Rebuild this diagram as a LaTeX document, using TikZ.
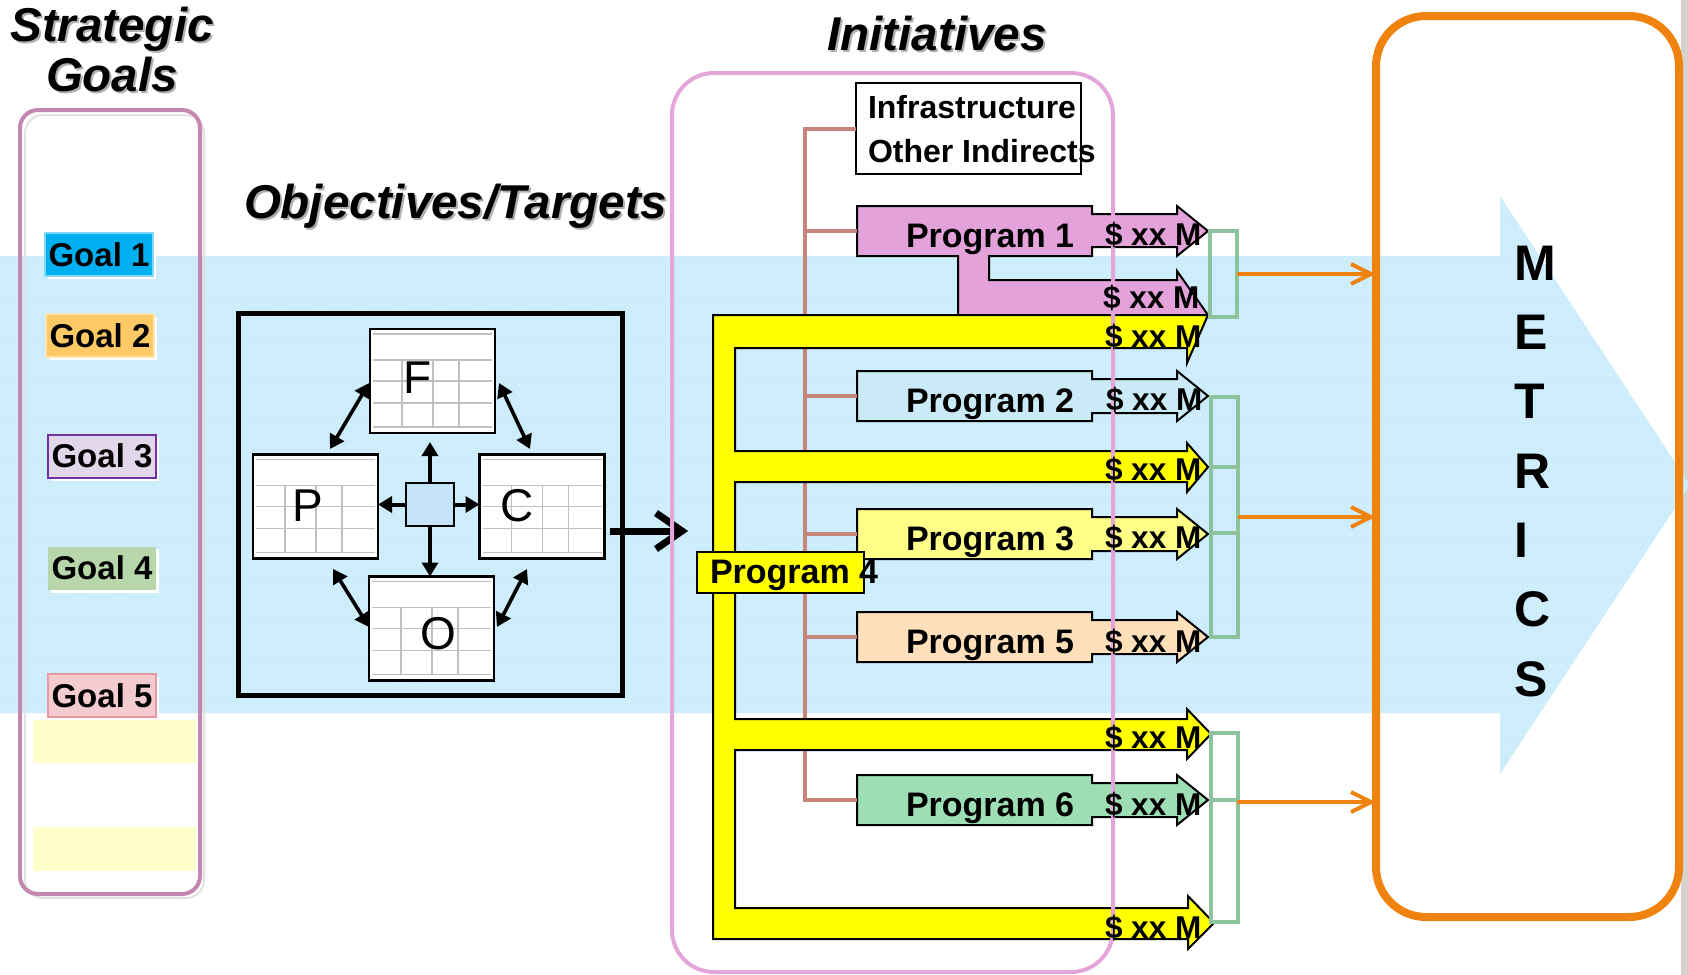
\documentclass[tikz,border=0pt]{standalone}
\usepackage{fontspec}
\setmainfont{Liberation Sans}
\usetikzlibrary{arrows.meta,patterns.meta,calc}

\definecolor{bandblue}{RGB}{205,236,252}
\definecolor{banddot}{RGB}{230,247,255}
\definecolor{edgegray}{RGB}{214,210,204}
\definecolor{goalframe}{RGB}{196,136,176}
\definecolor{goalshade}{RGB}{226,226,226}
\definecolor{goalA}{RGB}{0,176,240}
\definecolor{goalB}{RGB}{255,201,102}
\definecolor{goalC}{RGB}{225,214,234}
\definecolor{goalCedge}{RGB}{112,48,160}
\definecolor{goalD}{RGB}{183,215,170}
\definecolor{goalE}{RGB}{244,204,207}
\definecolor{goalEedge}{RGB}{232,152,158}
\definecolor{paleyellow}{RGB}{255,255,204}
\definecolor{hubblue}{RGB}{197,228,250}
\definecolor{gridgray}{RGB}{192,192,192}
\definecolor{linkbrown}{RGB}{198,134,124}
\definecolor{initpink}{RGB}{228,166,218}
\definecolor{progA}{RGB}{227,163,218}
\definecolor{progB}{RGB}{202,234,247}
\definecolor{progC}{RGB}{255,255,136}
\definecolor{progE}{RGB}{255,224,186}
\definecolor{progF}{RGB}{158,222,180}
\definecolor{progD}{RGB}{255,255,0}
\definecolor{bracketgreen}{RGB}{140,194,156}
\definecolor{metricorange}{RGB}{240,130,16}
\definecolor{shadegray}{RGB}{175,175,175}

% block arrow of one programme: body, shaft and head, top edge at y=#2
\newcommand\progarrow[3]{%
  \begin{scope}[shift={(0,#2)}]
    \draw[progline, fill=#3] (857,0) -- (1092,0) -- (1092,8) -- (1177,8) -- (1177,0)
      -- (1208,25) -- (1177,50) -- (1177,42) -- (1092,42) -- (1092,50) -- (857,50) -- cycle;
    \coordinate (#1-w) at (857,25);
    \coordinate (#1-tip) at (1208,25);
  \end{scope}}

% spreadsheet ruling inside a planning box
\newcommand\pfgrid[1]{%
  \begin{scope}[shift={(#1.north west)}]
    \foreach \gy in {5,31,52,74,98} \draw[gridl] (3,\gy) -- (122,\gy);
    \foreach \gx in {32,63,89} \draw[gridl] (\gx,31) -- (\gx,98);
  \end{scope}}

% open chevron head at coordinate #1, arms #2 px back and #3 px to each side
\newcommand\chevronhead[4]{%
  \draw[#4, line join=miter] ($(#1)+(-#2,-#3)$) -- (#1) -- ($(#1)+(-#2,#3)$);}

\begin{document}
\begin{tikzpicture}[x=0.5pt, y=-0.5pt,
  every node/.style={inner sep=0pt, outer sep=0pt},
  titletxt/.style={font=\fontsize{23.75pt}{28pt}\selectfont\bfseries\itshape},
  titleshade/.style={titletxt, text=shadegray},
  goallbl/.style={font=\fontsize{16.5pt}{19pt}\selectfont\bfseries, minimum width=54pt, minimum height=21.5pt, line width=0.6pt},
  pfbox/.style={draw, fill=white, line width=1.25pt, minimum width=62.5pt, minimum height=52pt},
  gridl/.style={draw=gridgray, line width=0.7pt},
  pfletter/.style={font=\fontsize{23pt}{26pt}\selectfont},
  pfarrow/.style={line width=2pt, -{Triangle[length=7pt,width=8pt]}},
  pfdouble/.style={line width=1.8pt, {Triangle[length=7pt,width=8pt]}-{Triangle[length=7pt,width=8pt]}},
  proglbl/.style={font=\fontsize{17pt}{20pt}\selectfont\bfseries, anchor=base west},
  costlbl/.style={font=\fontsize{15.75pt}{18pt}\selectfont\bfseries, anchor=base west},
  infotxt/.style={font=\fontsize{16pt}{19pt}\selectfont\bfseries, anchor=base west},
  progline/.style={draw=black, line width=1pt, line join=miter},
  linkline/.style={draw=linkbrown, line width=2pt},
  bracketbox/.style={draw=bracketgreen, line width=2pt, minimum width=13.5pt},
  metricline/.style={draw=metricorange, line width=2pt},
  bigline/.style={draw=black, line width=3.5pt},
  metricletter/.style={font=\fontsize{25pt}{28pt}\selectfont\bfseries, anchor=west},
]
\useasboundingbox (0,0) rectangle (1688,975);
\fill[white] (0,0) rectangle (1688,975);
\fill[edgegray] (1681,0) rectangle (1688,975);

% wide background arrow
\fill[bandblue] (0,256) -- (1500,256) -- (1500,196) -- (1690,485) -- (1500,774) -- (1500,713) -- (0,713) -- cycle;
\fill[pattern={Dots[distance=5pt,radius=0.5pt]}, pattern color=banddot]
  (0,256) -- (1500,256) -- (1500,196) -- (1690,485) -- (1500,774) -- (1500,713) -- (0,713) -- cycle;

% strategic goals column
\draw[rounded corners=9pt, draw=goalshade, line width=1pt] (25,115) rectangle (204,898);
\draw[rounded corners=9pt, draw=goalframe, line width=2pt] (20,110) rectangle (200,894);
\fill[white] (48,236) rectangle (156,279);
\fill[white] (49,317) rectangle (157,360);
\fill[white] (51,437) rectangle (159,481);
\fill[white] (51,549) rectangle (159,593);
\fill[white] (51,677) rectangle (159,720);
\node[goallbl, fill=goalA, draw=goalA!50!white] (g1) at (99,254.5) {Goal 1};
\node[goallbl, fill=goalB, draw=goalB!50!white] (g2) at (100,335.5) {Goal 2};
\node[goallbl, fill=goalC, draw=goalCedge, line width=1pt] (g3) at (102,456) {Goal 3};
\node[goallbl, fill=goalD] (g4) at (102,568) {Goal 4};
\node[goallbl, fill=goalE, draw=goalEedge, line width=0.8pt] (g5) at (102,695.5) {Goal 5};
\fill[paleyellow] (33,720) rectangle (196,763);
\fill[paleyellow] (33,827) rectangle (196,871);

% objectives / targets frame
\node[draw, line width=2.5pt, minimum width=192pt, minimum height=191pt] (pfoc) at (430,504) {};
\node[pfbox] (F) at (432.5,381) {};
\node[pfbox] (P) at (315.5,506.5) {};
\node[pfbox] (C) at (542,506.5) {};
\node[pfbox] (O) at (431.5,628.5) {};
\pfgrid{F}
\pfgrid{P}
\pfgrid{C}
\pfgrid{O}
\node[pfletter] (Fl) at (418,378) {F};
\node[pfletter] (Pl) at (308,506) {P};
\node[pfletter] (Cl) at (517,506) {C};
\node[pfletter] (Ol) at (438,634) {O};
\node[draw, fill=hubblue, line width=1pt, minimum width=24pt, minimum height=21.5pt] (hub) at (430,504.5) {};
\draw[pfarrow] (hub.north) -- ($(hub.north |- F.south)+(0,9)$);
\draw[pfarrow] (hub.south) -- (hub.south |- O.north);
\draw[pfarrow] (hub.west) -- (hub.west -| P.east);
\draw[pfarrow] (hub.east) -- (hub.east -| C.west);
\coordinate (pfA) at (330,449); \coordinate (pfB) at (369,383);
\coordinate (fcA) at (499,383); \coordinate (fcB) at (530,449);
\coordinate (poA) at (333,569); \coordinate (poB) at (369,627);
\coordinate (ocA) at (497,627); \coordinate (ocB) at (527,569);
\draw[pfdouble] (pfA) -- (pfB);
\draw[pfdouble] (fcA) -- (fcB);
\draw[pfdouble] (poA) -- (poB);
\draw[pfdouble] (ocA) -- (ocB);
\coordinate (bigS) at (610,531);
\coordinate (bigE) at (682,531);
\draw[bigline] (bigS) -- ($(bigE)+(-5,0)$);
\chevronhead{bigE}{26}{18}{bigline}

% initiatives: indirect box and programme arrows
\node[draw, fill=white, line width=1pt, minimum width=112.5pt, minimum height=45.5pt] (infra) at (968.5,128.5) {};
\progarrow{p2}{371}{progB}
\progarrow{p3}{509}{progC}
\progarrow{p5}{612}{progE}
\progarrow{p6}{775}{progF}
\draw[progline, fill=progA] (857,206) -- (1092,206) -- (1092,214) -- (1177,214) -- (1177,206)
  -- (1208,231) -- (1177,256) -- (1177,247) -- (1092,247) -- (1092,256) -- (989,256) -- (989,280)
  -- (1177,280) -- (1177,271) -- (1208,315) -- (958,315) -- (958,256) -- (857,256) -- cycle;
\coordinate (p1-w) at (857,231);
\coordinate (trunkTop) at (805,128.5);
\draw[linkline] (infra.west) -- (trunkTop) |- (p6-w);
\draw[linkline] (trunkTop |- p1-w) -- (p1-w);
\draw[linkline] (trunkTop |- p2-w) -- (p2-w);
\draw[linkline] (trunkTop |- p3-w) -- (p3-w);
\draw[linkline] (trunkTop |- p5-w) -- (p5-w);
% programme 4 feeding several goals
\draw[progline, fill=progD] (713,315) -- (1208,315) -- (1187,363) -- (1187,348) -- (735,348)
  -- (735,451) -- (1187,451) -- (1187,443) -- (1208,467) -- (1187,492) -- (1187,482) -- (735,482)
  -- (735,719) -- (1187,719) -- (1187,709) -- (1211,734) -- (1187,759) -- (1187,750) -- (735,750)
  -- (735,908) -- (1188,908) -- (1188,896) -- (1214,923) -- (1188,949) -- (1188,939) -- (713,939) -- cycle;
\node[draw, fill=progD, line width=1pt, minimum width=83.5pt, minimum height=20.5pt] (p4box) at (780.5,572.5) {};

% initiatives frame
\draw[draw=initpink, line width=2pt, rounded corners=21pt] (672,73) rectangle (1113,972);

% texts of the initiatives
\node[infotxt] (infraA) at (868,118) {Infrastructure};
\node[infotxt] (infraB) at (868,162) {Other Indirects};
\node[proglbl] (t1) at (906,247) {Program 1};
\node[proglbl] (t2) at (906,412) {Program 2};
\node[proglbl] (t3) at (906,550) {Program 3};
\node[proglbl] (t5) at (906,653) {Program 5};
\node[proglbl] (t6) at (906,816) {Program 6};
\node[proglbl] (t4) at (710,583) {Program 4};
\node[costlbl] (c1) at (1105,245) {\$ xx M};
\node[costlbl] (c1b) at (1103,308) {\$ xx M};
\node[costlbl] (c4a) at (1105,347) {\$ xx M};
\node[costlbl] (c2) at (1106,410) {\$ xx M};
\node[costlbl] (c4b) at (1105,480) {\$ xx M};
\node[costlbl] (c3) at (1105,548) {\$ xx M};
\node[costlbl] (c5) at (1105,652) {\$ xx M};
\node[costlbl] (c4c) at (1105,748) {\$ xx M};
\node[costlbl] (c6) at (1105,815) {\$ xx M};
\node[costlbl] (c4d) at (1105,938) {\$ xx M};

% grouping brackets and metrics
\node[bracketbox, minimum height=43pt] (br1) at (1223.5,274) {};
\node[bracketbox, minimum height=120pt] (br2) at (1224,517) {};
\draw[draw=bracketgreen, line width=2pt] ($(br2.north west)+(0,70)$) -- ($(br2.north east)+(0,70)$);
\draw[draw=bracketgreen, line width=2pt] ($(br2.north west)+(0,136)$) -- ($(br2.north east)+(0,136)$);
\node[bracketbox, minimum height=94.5pt] (br3) at (1224,827.5) {};
\draw[draw=bracketgreen, line width=2pt] ($(br3.north west)+(0,67)$) -- ($(br3.north east)+(0,67)$);
\node[draw=metricorange, line width=4pt, rounded corners=25pt, minimum width=151.5pt, minimum height=450.5pt] (mbox) at (1527.5,466.5) {};
\coordinate (o1) at (br1.east);
\coordinate (o2) at (br2.east);
\coordinate (o3) at (1237,802);
\coordinate (e1) at ($(o1 -| mbox.west)+(-5,0)$);
\coordinate (e2) at ($(o2 -| mbox.west)+(-5,0)$);
\coordinate (e3) at ($(o3 -| mbox.west)+(-5,0)$);
\draw[metricline] (o1) -- (e1);
\draw[metricline] (o2) -- (e2);
\draw[metricline] (o3) -- (e3);
\chevronhead{e1}{20}{10}{metricline}
\chevronhead{e2}{20}{10}{metricline}
\chevronhead{e3}{20}{10}{metricline}
\foreach \L [count=\i from 0] in {M,E,T,R,I,C,S}
  \node[metricletter] (met\i) at (1514,{263+69.3*\i}) {\L};

% headings with drop shadows
\node[titleshade, anchor=base] (sgShA) at (114,43) {Strategic};
\node[titletxt, anchor=base] (sgA) at (112,41) {Strategic};
\node[titleshade, anchor=base] (sgShB) at (114,93) {Goals};
\node[titletxt, anchor=base] (sgB) at (112,91) {Goals};
\node[titleshade, anchor=base west] (objSh) at (246,220) {Objectives/Targets};
\node[titletxt, anchor=base west] (obj) at (244,218) {Objectives/Targets};
\node[titleshade, anchor=base] (iniSh) at (939,52) {Initiatives};
\node[titletxt, anchor=base] (ini) at (937,50) {Initiatives};
\end{tikzpicture}
\end{document}
